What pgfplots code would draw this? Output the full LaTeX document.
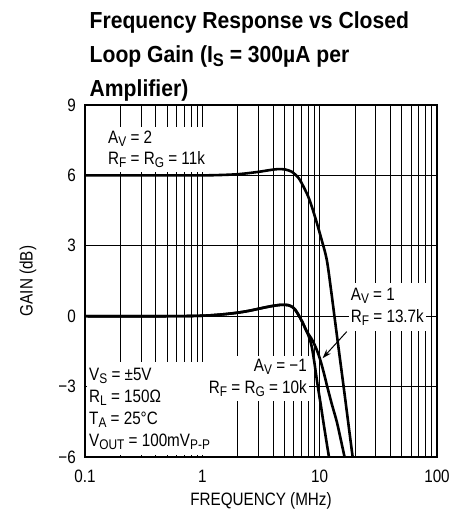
\documentclass[border=0pt]{standalone}
\usepackage{fontspec}
\setmainfont{Liberation Sans}[FakeStretch=0.85]
\newfontfamily\titlefont{Liberation Sans}[FakeStretch=0.91]
\usepackage{graphicx}
\usepackage{pgfplots}
\pgfplotsset{compat=1.18}
\usetikzlibrary{arrows.meta}
\newcommand\sub[1]{\raisebox{-0.32ex}{\scalebox{0.78}{#1}}}
\newcommand\annL[1]{\begin{tabular}[t]{@{}l@{}}#1\end{tabular}}
\newcommand\annR[1]{\begin{tabular}[t]{@{}r@{}}#1\end{tabular}}
\begin{document}
\begin{tikzpicture}
\begin{axis}[
  scale only axis, width=352bp, height=352bp,
  xmode=log, xmin=0.1, xmax=100, ymin=-6, ymax=9,
  xtick={0.1,1,10,100}, xticklabels={0.1,1,10,100},
  minor xtick={0.2,0.3,0.4,0.5,0.6,0.7,0.8,0.9,2,3,4,5,6,7,8,9,20,30,40,50,60,70,80,90},
  ytick={-6,-3,0,3,6,9}, yticklabels={−6,−3,0,3,6,9},
  grid=both,
  major grid style={black, line width=0.75bp},
  minor grid style={black, line width=0.75bp},
  major tick length=0pt, minor tick length=0pt,
  axis line style={line width=1.3bp},
  ticklabel style={font=\fontsize{18}{18}\selectfont, inner sep=0pt},
  xticklabel style={anchor=base, yshift=-25bp},
  yticklabel style={anchor=east, xshift=-9bp},
  xlabel={FREQUENCY (MHz)}, ylabel={GAIN (dB)},
  every axis x label/.style={at={(rel axis cs:0.5,0)}, yshift=-48bp, anchor=base, font=\fontsize{18}{18}\selectfont},
  every axis y label/.style={at={(rel axis cs:0,0.5)}, xshift=-57bp, rotate=90, anchor=center, font=\fontsize{18}{18}\selectfont},
]
\coordinate (SW) at (rel axis cs:0,0);
% A_V = 2
\addplot[line width=2.6bp, smooth, black] coordinates {
(0.1,6.0) (0.5,6.0) (1,6.0) (1.5,6.02) (2,6.05) (2.5,6.1) (3.1,6.16) (3.8,6.23)
(4.45,6.27) (5.1,6.25) (5.77,6.16) (6.3,6.0) (6.8,5.8) (8.0,5.09)
(9.12,4.24) (10.4,3.25) (11.5,2.4) (12.5,1.12) (13.36,0.0) (14.56,-1.44)
(16.0,-3.0) (17.4,-4.42) (19.1,-6.0)};
% A_V = -1
\addplot[line width=2.6bp, smooth, black] coordinates {
(0.1,0) (0.5,0) (1,0.02) (1.5,0.08) (2,0.15) (2.5,0.23) (3.1,0.33) (3.8,0.42)
(4.6,0.48) (5.4,0.47) (5.9,0.38) (6.2,0.27) (6.7,0.0) (7.2,-0.3) (7.74,-0.64)
(8.2,-0.95) (8.6,-1.35) (9.0,-1.95) (9.3,-2.45) (9.65,-3.0) (10.2,-3.75)
(10.75,-4.5) (11.35,-5.25) (12.0,-6.0)};
% A_V = 1
\addplot[line width=2.6bp, smooth, black] coordinates {
(0.1,0) (0.5,0) (1,0.02) (1.5,0.08) (2,0.15) (2.5,0.23) (3.1,0.33) (3.8,0.42)
(4.6,0.48) (5.4,0.47) (5.9,0.38) (6.2,0.27) (6.7,0.0) (7.2,-0.3) (7.74,-0.64)
(8.5,-0.95) (9.3,-1.35) (10.1,-1.85) (10.9,-2.45) (11.6,-3.0) (12.7,-3.75)
(14.0,-4.5) (15.2,-5.3) (16.3,-6.0)};
\node[anchor=base west, fill=white, inner xsep=2bp, inner ysep=2bp, font=\fontsize{18}{22.3}\selectfont]
  at (axis cs:0.104,-2.719) {\annL{V\sub{S} = ±5V\\R\sub{L} = 150Ω\\T\sub{A} = 25°C\\V\sub{OUT} = 100mV\sub{P-P}}};
\node[anchor=base west, fill=white, inner xsep=2bp, inner ysep=1bp, font=\fontsize{18}{21.7}\selectfont]
  at (axis cs:0.151,7.368) {\annL{A\sub{V} = 2\\R\sub{F} = R\sub{G} = 11k}};
\node[anchor=base west, fill=white, inner xsep=2bp, inner ysep=1bp, font=\fontsize{18}{23}\selectfont]
  at (axis cs:17.68,0.69) {\annL{A\sub{V} = 1\\R\sub{F} = 13.7k}};
\node[anchor=base east, fill=white, inner xsep=2bp, inner ysep=1bp, font=\fontsize{18}{21.7}\selectfont]
  at (axis cs:8.11,-2.364) {\annR{A\sub{V} = −1\\R\sub{F} = R\sub{G} = 10k}};
\draw[-{Stealth[length=9bp,width=6bp]}, line width=1bp] (axis cs:17.0,-0.66) -- (axis cs:10.6,-1.79);
\end{axis}
\node[anchor=base west, inner sep=0pt, font=\titlefont\bfseries\fontsize{23.3}{34}\selectfont]
  at ([shift={(4.5bp,428.7bp)}]SW) {\annL{Frequency Response vs Closed\\Loop Gain (I\sub{S} = 300µA per\\Amplifier)}};
\pgfresetboundingbox
\path[use as bounding box] ([shift={(-85bp,-53bp)}]SW) rectangle ([shift={(378bp,457bp)}]SW);
\end{tikzpicture}
\end{document}
